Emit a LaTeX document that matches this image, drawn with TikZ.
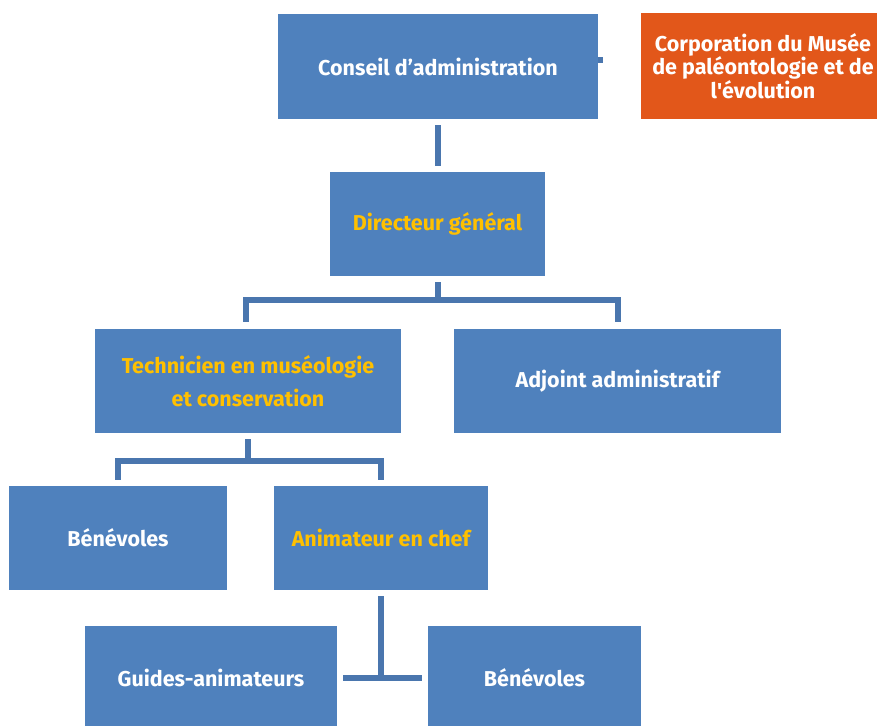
\documentclass[tikz,border=0pt]{standalone}
\usepackage{fontspec}
\setmainfont{Fira Sans}
\usetikzlibrary{calc}
\definecolor{boxblue}{HTML}{4F81BD}
\definecolor{linkblue}{HTML}{4A76AE}
\definecolor{corporange}{HTML}{E2571A}
\definecolor{titleyellow}{HTML}{FFC000}
\begin{document}
\begin{tikzpicture}[x=1pt,y=-1pt,
  box/.style={fill=boxblue, inner sep=0pt, align=center, text=white,
    font=\bfseries\fontsize{21.5}{22}\selectfont},
  hl/.style={text=titleyellow},
  link/.style={draw=linkblue, line width=6pt}]
\clip (0,0) rectangle (877,725);
\fill[white] (0,0) rectangle (877,725);
\node[box, minimum width=320pt, minimum height=105pt] (conseil) at (438,66.5) {Conseil d’administration};
\node[box, fill=corporange, minimum width=244pt, minimum height=105pt, font=\bfseries\fontsize{21.5}{21}\selectfont] (corp) at (763,66)
  {Corporation du Musée\\de paléontologie et de\\l\textquotesingle évolution};
\node[box, hl, minimum width=215pt, minimum height=104pt] (dir) at (437.5,224) {Directeur général};
\node[box, hl, minimum width=306pt, minimum height=104pt, font=\bfseries\fontsize{21.5}{33}\selectfont] (tech) at (248,381)
  {Technicien en muséologie\\et conservation};
\node[box, minimum width=327pt, minimum height=104pt] (adj) at (617.5,381) {Adjoint administratif};
\node[box, minimum width=218pt, minimum height=104pt] (ben1) at (118,538) {Bénévoles};
\node[box, hl, minimum width=214pt, minimum height=104pt] (anim) at (381,538) {Animateur en chef};
\node[box, minimum width=252pt, minimum height=104pt] (guides) at (211,678) {Guides-animateurs};
\node[box, minimum width=213pt, minimum height=104pt] (ben2) at (534.5,678) {Bénévoles};
% connectors
\draw[link] ($(conseil.east)+(0,-6.5)$) -- ++(5,0);
\draw[link] ($(conseil.south)+(-0.5,6)$) -- ($(dir.north)+(0,-6)$);
\draw[link] ($(dir.south)+(0,6)$) -- ($(dir.south)+(0,24)$);
\draw[link] ($(tech.north)+(-2,-7)$) |- ($(dir.south)+(0,24)$) -| ($(adj.north)+(0.5,-7)$);
\draw[link] ($(tech.south)+(0,6)$) -- ($(tech.south)+(0,28)$);
\draw[link] ($(ben1.north)+(0,-6)$) |- ($(tech.south)+(0,28)$) -| ($(anim.north)+(0,-6)$);
\draw[link] ($(anim.south)+(0,6)$) -- ($(anim.south)+(0,88)$);
\draw[link] ($(guides.east)+(6,0)$) -- ($(ben2.west)+(-6,0)$);
\end{tikzpicture}
\end{document}
